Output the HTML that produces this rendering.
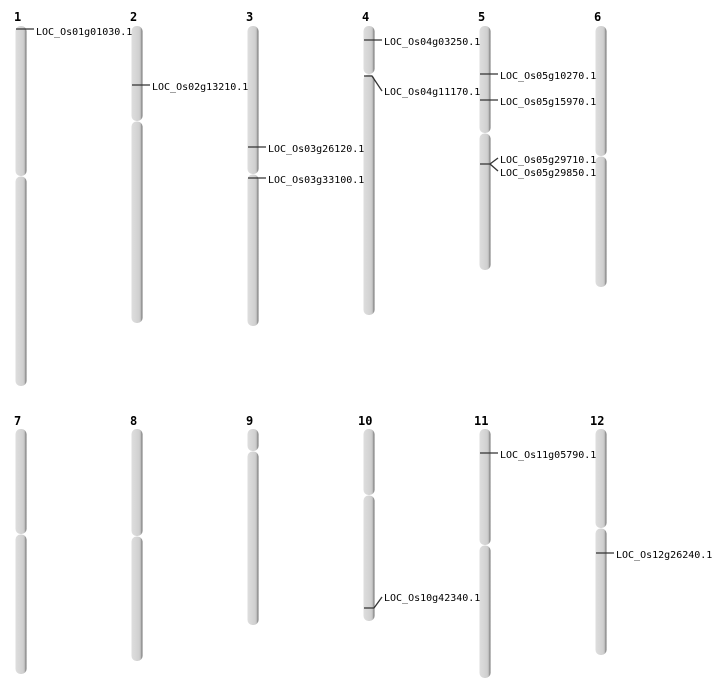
<!DOCTYPE html>
<html><head><meta charset="utf-8"><style>
html,body{margin:0;padding:0;background:#fff}
svg{display:block}
.n{font-family:"DejaVu Sans Mono","Liberation Mono",monospace;font-size:12px;font-weight:bold;fill:#000}
.l{font-family:"DejaVu Sans Mono","Liberation Mono",monospace;font-size:10px;fill:#000}
.m{stroke:#333;stroke-width:1.3}
</style></head><body>
<svg width="712" height="700" viewBox="0 0 712 700" xmlns="http://www.w3.org/2000/svg">
<defs>
<linearGradient id="g" x1="0" x2="1" y1="0" y2="0">
<stop offset="0" stop-color="#dedede"/><stop offset="0.7" stop-color="#d0d0d0"/><stop offset="0.85" stop-color="#b8b8b8"/><stop offset="1" stop-color="#666"/>
</linearGradient>
</defs>
<g fill="url(#g)">
<rect x="15.5" y="26" width="11" height="150" rx="5"/><rect x="15.5" y="176.5" width="11" height="209.5" rx="5"/>
<rect x="131.5" y="26" width="11" height="95" rx="5"/><rect x="131.5" y="121.5" width="11" height="201.5" rx="5"/>
<rect x="247.5" y="26" width="11" height="148" rx="5"/><rect x="247.5" y="174.5" width="11" height="151.5" rx="5"/>
<rect x="363.5" y="26" width="11" height="48" rx="5"/><rect x="363.5" y="74.5" width="11" height="240.5" rx="5"/>
<rect x="479.5" y="26" width="11" height="107" rx="5"/><rect x="479.5" y="133.5" width="11" height="136.5" rx="5"/>
<rect x="595.5" y="26" width="11" height="130" rx="5"/><rect x="595.5" y="156.5" width="11" height="130.5" rx="5"/>
<rect x="15.5" y="429" width="11" height="105" rx="5"/><rect x="15.5" y="534.5" width="11" height="139.5" rx="5"/>
<rect x="131.5" y="429" width="11" height="107" rx="5"/><rect x="131.5" y="536.5" width="11" height="124.5" rx="5"/>
<rect x="247.5" y="429" width="11" height="22" rx="5"/><rect x="247.5" y="451.5" width="11" height="173.5" rx="5"/>
<rect x="363.5" y="429" width="11" height="66" rx="5"/><rect x="363.5" y="495.5" width="11" height="125.5" rx="5"/>
<rect x="479.5" y="429" width="11" height="116" rx="5"/><rect x="479.5" y="545.5" width="11" height="132.5" rx="5"/>
<rect x="595.5" y="429" width="11" height="99" rx="5"/><rect x="595.5" y="528.5" width="11" height="126.5" rx="5"/>
</g>
<text class="n" x="14" y="21">1</text><text class="n" x="130" y="21">2</text><text class="n" x="246" y="21">3</text><text class="n" x="362" y="21">4</text><text class="n" x="478" y="21">5</text><text class="n" x="594" y="21">6</text>
<text class="n" x="14" y="425">7</text><text class="n" x="130" y="425">8</text><text class="n" x="246" y="425">9</text><text class="n" x="358" y="425">10</text><text class="n" x="474" y="425">11</text><text class="n" x="590" y="425">12</text>
<g class="m" fill="none">
<path d="M16 29H34"/>
<path d="M132 85H150"/>
<path d="M248 147H266"/>
<path d="M248 178H266"/>
<path d="M364 40H382"/>
<path d="M364 76H372L382 91"/>
<path d="M480 74H498"/>
<path d="M480 100H498"/>
<path d="M480 164H490L498 158M490 164L498 171"/>
<path d="M364 608H374L382 597"/>
<path d="M480 453H498"/>
<path d="M596 553H614"/>
</g>
<text class="l" x="36" y="35">LOC_Os01g01030.1</text>
<text class="l" x="152" y="90">LOC_Os02g13210.1</text>
<text class="l" x="268" y="152">LOC_Os03g26120.1</text>
<text class="l" x="268" y="183">LOC_Os03g33100.1</text>
<text class="l" x="384" y="45">LOC_Os04g03250.1</text>
<text class="l" x="384" y="95">LOC_Os04g11170.1</text>
<text class="l" x="500" y="79">LOC_Os05g10270.1</text>
<text class="l" x="500" y="105">LOC_Os05g15970.1</text>
<text class="l" x="500" y="163">LOC_Os05g29710.1</text>
<text class="l" x="500" y="176">LOC_Os05g29850.1</text>
<text class="l" x="384" y="601">LOC_Os10g42340.1</text>
<text class="l" x="500" y="458">LOC_Os11g05790.1</text>
<text class="l" x="616" y="558">LOC_Os12g26240.1</text>
</svg>
</body></html>
